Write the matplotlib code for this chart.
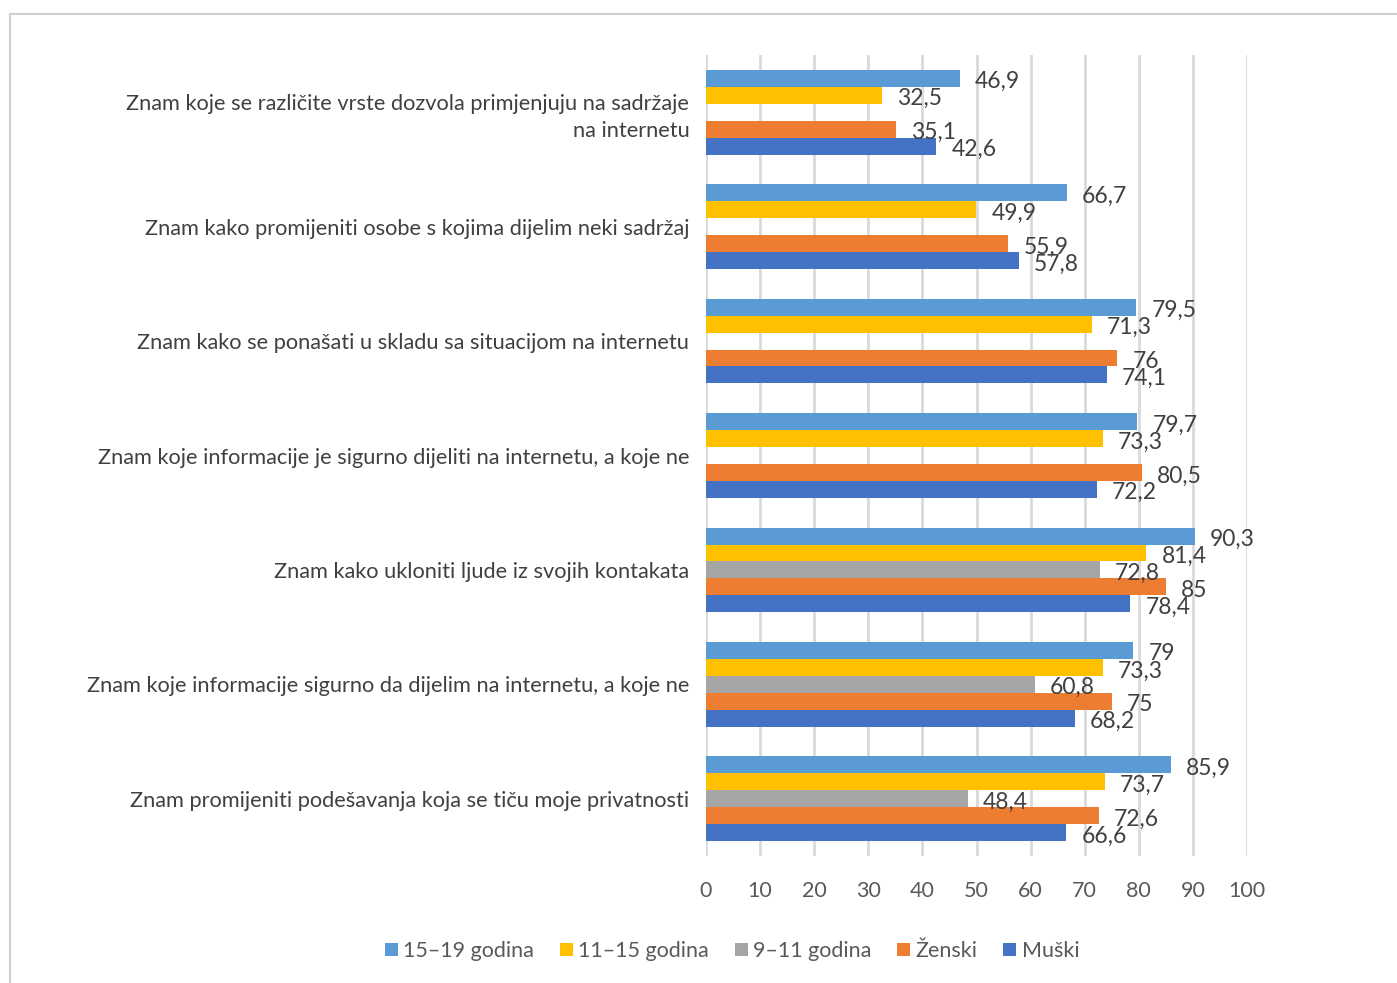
import numpy as np
import matplotlib.pyplot as plt
from matplotlib.patches import Rectangle

plt.rcParams['font.family'] = ['Lato', 'DejaVu Sans']

categories = [
    'Znam koje se različite vrste dozvola primjenjuju na sadržaje\nna internetu',
    'Znam kako promijeniti osobe s kojima dijelim neki sadržaj',
    'Znam kako se ponašati u skladu sa situacijom na internetu',
    'Znam koje informacije je sigurno dijeliti na internetu, a koje ne',
    'Znam kako ukloniti ljude iz svojih kontakata',
    'Znam koje informacije sigurno da dijelim na internetu, a koje ne',
    'Znam promijeniti podešavanja koja se tiču moje privatnosti',
]
series_names = ['15–19 godina', '11–15 godina', '9–11 godina', 'Ženski', 'Muški']
age_15_19 = [46.9, 66.7, 79.5, 79.7, 90.3, 79.0, 85.9]
age_11_15 = [32.5, 49.9, 71.3, 73.3, 81.4, 73.3, 73.7]
age_9_11 = [np.nan, np.nan, np.nan, np.nan, 72.8, 60.8, 48.4]
zenski = [35.1, 55.9, 76.0, 80.5, 85.0, 75.0, 72.6]
muski = [42.6, 57.8, 74.1, 72.2, 78.4, 68.2, 66.6]
colors = ['#5B9BD5', '#FFC000', '#A5A5A5', '#ED7D31', '#4472C4']

fig = plt.figure(figsize=(13.97, 9.83), dpi=100)
fig.patches.append(Rectangle((10 / 1397, -0.1), 1.2, 1 - 14 / 983 + 0.1,
                             transform=fig.transFigure, fill=False,
                             edgecolor='#D0D0D0', linewidth=1.5))
ax = fig.add_axes([706 / 1397, 1 - 856 / 983, 541 / 1397, 801 / 983])

y = np.arange(len(categories))
h = 0.148
data = [age_15_19, age_11_15, age_9_11, zenski, muski]
for i, (vals, name, c) in enumerate(zip(data, series_names, colors)):
    pos = y + (i - 2) * h
    ax.barh(pos, vals, height=h, color=c, label=name, zorder=3)
    for p, v in zip(pos, vals):
        if np.isnan(v):
            continue
        txt = ('%g' % v).replace('.', ',')
        ax.annotate(txt, (v, p), xytext=(11, -2.5), textcoords='offset points',
                    ha='left', va='center', fontsize=16.5, color='#404040',
                    zorder=4)

ax.set_xlim(0, 100)
ax.set_ylim(len(categories) - 0.5, -0.5)
ax.set_xticks(np.arange(0, 101, 10))
ax.grid(axis='x', color='#D9D9D9', linewidth=2, zorder=0)
for s in ax.spines.values():
    s.set_visible(False)
ax.tick_params(axis='x', length=0, pad=18, labelsize=15.5, labelcolor='#595959')
ax.tick_params(axis='y', length=0, pad=12, labelsize=15.7, labelcolor='#404040')
ax.set_yticks(y)
ax.set_yticklabels(categories, ha='right', multialignment='right', linespacing=1.45)

handles, labels = ax.get_legend_handles_labels()
fig.legend(handles, labels, loc='center', bbox_to_anchor=(732 / 1397, 1 - 951 / 983),
           ncol=5, frameon=False, fontsize=15.5, labelcolor='#595959',
           handlelength=0.6, handleheight=0.6, handletextpad=0.25, columnspacing=1.2)

fig.savefig('out.png', dpi=100)
